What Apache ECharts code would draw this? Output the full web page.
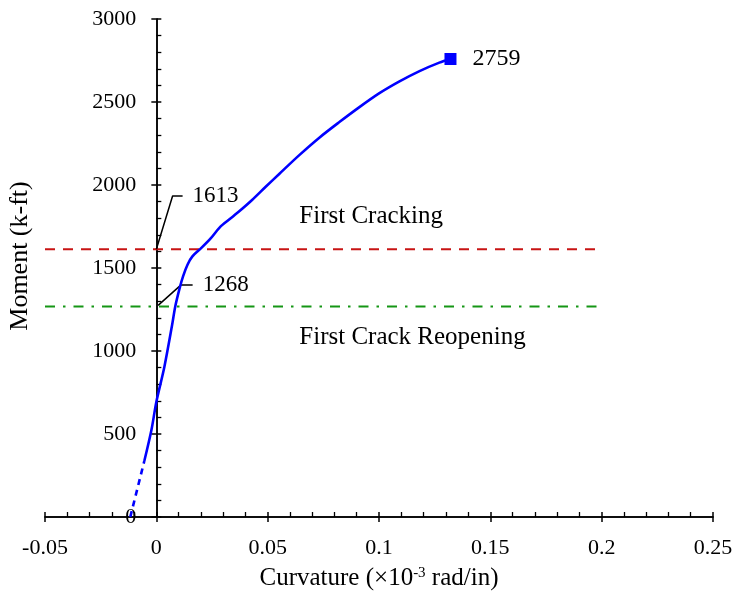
<!DOCTYPE html>
<html>
<head>
<meta charset="utf-8">
<script src="https://cdn.jsdelivr.net/npm/echarts@6.0.0/dist/echarts.min.js"></script>
<style>
  html, body { margin: 0; padding: 0; background: #fff; }
  #chart { width: 740px; height: 596px; }
</style>
</head>
<body>
<div id="chart"></div>
<script>
// ---- data ----
const xTickLabels = ['-0.05', '0', '0.05', '0.1', '0.15', '0.2', '0.25'];
const yTickLabels = ['0', '500', '1000', '1500', '2000', '2500', '3000'];
const xMin = -0.05, xMax = 0.25, xStep = 0.05;
const yMin = 0, yMax = 3000, yStep = 500;

// initial (dashed) part of the moment-curvature curve
const dashedCurvature = [-0.0117, -0.0054];
const dashedMoment = [0, 337];

// main moment-curvature curve
const curvature = [-0.0054, -0.0022, 0.0000, 0.0036, 0.0070, 0.0085, 0.0105, 0.0120, 0.0140, 0.0162,
  0.0200, 0.0245, 0.0285, 0.0330, 0.0375, 0.0430, 0.0490, 0.0553, 0.0642, 0.0732,
  0.0822, 0.0912, 0.1002, 0.1092, 0.1182, 0.1271, 0.1321];
const moment = [337, 524, 693, 904, 1150, 1268, 1380, 1450, 1520, 1570,
  1618, 1680, 1745, 1795, 1845, 1910, 1988, 2068, 2180, 2285,
  2379, 2469, 2553, 2624, 2686, 2737, 2759];

// ultimate point
const ultimateCurvature = 0.1321;
const ultimateMoment = 2759;

// reference moments
const crackingMoment = 1613;
const reopeningMoment = 1268;
const refLineCurvature = [-0.05, 0.2];

// leader lines for value call-outs
const leader1613Curvature = [0.0000, 0.0073, 0.0118];
const leader1613Moment = [1613, 1934, 1934];
const leader1268Curvature = [0.0008, 0.0111, 0.0163];
const leader1268Moment = [1275, 1398, 1398];

// text annotations
const annotationNames = ['First Cracking', 'First Crack Reopening'];
const annotationCurvature = [0.0642, 0.0642];
const annotationMoment = [1812, 1084];

// ---- chart ----
const FONT = '"Liberation Serif", "Times New Roman", serif';
const pairs = (xs, ys) => xs.map((x, i) => [x, ys[i]]);

const W = 740, H = 596;
const GRID = { left: 45, right: 27, top: 19, bottom: 79 };
const gridWidth = W - GRID.left - GRID.right;
// vertical axis drawn where curvature = 0
const yAxisOffset = -gridWidth * (0 - xMin) / (xMax - xMin);

const chart = echarts.init(document.getElementById('chart'), null, { renderer: 'canvas' });

const axisBase = (extra) => Object.assign({
  type: 'value',
  splitLine: { show: false },
  minorSplitLine: { show: false },
}, extra);

const option = {
  animation: false,
  backgroundColor: '#fff',
  grid: Object.assign({ containLabel: false, outerBoundsMode: 'none' }, GRID),
  xAxis: [
    axisBase({
      min: xMin, max: xMax, interval: xStep, position: 'bottom',
      axisLine: { show: true, onZero: false, lineStyle: { color: '#000', width: 1.5 } },
      axisTick: { show: true, inside: true, length: 5, lineStyle: { color: '#000', width: 1.5 } },
      minorTick: { show: true, splitNumber: 5, length: 5, lineStyle: { color: '#000', width: 1.3 } },
      axisLabel: {
        margin: 20, fontSize: 22, fontFamily: FONT, color: '#000',
        formatter: (v) => xTickLabels[Math.round((v - xMin) / xStep)]
      },
      name: 'Curvature (×10{sup|-3} rad/in)',
      nameLocation: 'middle',
      nameGap: 49,
      nameTextStyle: {
        fontSize: 25, fontFamily: FONT, color: '#000',
        rich: { sup: { fontSize: 15, fontFamily: FONT, color: '#000', verticalAlign: 'top', lineHeight: 14 } }
      }
    }),
    axisBase({
      min: xMin, max: xMax, interval: xStep, position: 'bottom',
      axisLine: { show: true, onZero: false, lineStyle: { color: '#000', width: 1.5 } },
      axisTick: { show: true, inside: false, length: 5, lineStyle: { color: '#000', width: 1.5 } },
      minorTick: { show: false },
      axisLabel: { show: false }
    })
  ],
  yAxis: [
    axisBase({
      min: yMin, max: yMax, interval: yStep, position: 'left', offset: yAxisOffset,
      axisLine: { show: true, onZero: false, lineStyle: { color: '#000', width: 1.5 } },
      axisTick: { show: true, inside: true, length: 5, lineStyle: { color: '#000', width: 1.5 } },
      minorTick: { show: true, splitNumber: 5, length: 5, lineStyle: { color: '#000', width: 1.3 } },
      axisLabel: {
        margin: 20, fontSize: 22, fontFamily: FONT, color: '#000',
        formatter: (v) => yTickLabels[Math.round((v - yMin) / yStep)]
      }
    }),
    axisBase({
      min: yMin, max: yMax, interval: yStep, position: 'left', offset: yAxisOffset,
      axisLine: { show: true, onZero: false, lineStyle: { color: '#000', width: 1.5 } },
      axisTick: { show: true, inside: false, length: 5, lineStyle: { color: '#000', width: 1.5 } },
      minorTick: { show: false },
      axisLabel: { show: false }
    })
  ],
  graphic: [{
    type: 'text',
    x: 20, y: 256,
    rotation: Math.PI / 2,
    style: {
      text: 'Moment (k-ft)',
      font: '26px ' + FONT,
      fill: '#000',
      align: 'center',
      verticalAlign: 'middle'
    }
  }],
  series: [
    {
      name: 'First cracking', type: 'line', xAxisIndex: 0, yAxisIndex: 0,
      data: refLineCurvature.map(x => [x, crackingMoment]),
      symbol: 'none', z: 2, silent: true,
      lineStyle: { color: '#c81414', width: 2.2, type: [10, 8] }
    },
    {
      name: 'Crack reopening', type: 'line', xAxisIndex: 0, yAxisIndex: 0,
      data: refLineCurvature.map(x => [x, reopeningMoment]),
      symbol: 'none', z: 2, silent: true,
      lineStyle: { color: '#159615', width: 2.2, type: [10, 8, 2.5, 8] }
    },
    {
      name: 'Leader 1613', type: 'line', xAxisIndex: 0, yAxisIndex: 0,
      data: pairs(leader1613Curvature, leader1613Moment),
      symbol: 'none', z: 3, silent: true,
      lineStyle: { color: '#000', width: 1.5 },
      endLabel: { show: true, formatter: String(crackingMoment), distance: 10, fontSize: 23, fontFamily: FONT, color: '#000' }
    },
    {
      name: 'Leader 1268', type: 'line', xAxisIndex: 0, yAxisIndex: 0,
      data: pairs(leader1268Curvature, leader1268Moment),
      symbol: 'none', z: 3, silent: true,
      lineStyle: { color: '#000', width: 1.5 },
      endLabel: { show: true, formatter: String(reopeningMoment), distance: 10, fontSize: 23, fontFamily: FONT, color: '#000' }
    },
    {
      name: 'Initial', type: 'line', xAxisIndex: 0, yAxisIndex: 0,
      data: pairs(dashedCurvature, dashedMoment),
      symbol: 'none', z: 4, silent: true,
      lineStyle: { color: '#0000ff', width: 2.6, type: [6, 5] }
    },
    {
      name: 'Moment-curvature', type: 'line', xAxisIndex: 0, yAxisIndex: 0,
      data: pairs(curvature, moment),
      symbol: 'none', smooth: 0.3, z: 5, silent: true,
      lineStyle: { color: '#0000ff', width: 2.6 }
    },
    {
      name: 'Ultimate', type: 'scatter', xAxisIndex: 0, yAxisIndex: 0,
      data: [[ultimateCurvature, ultimateMoment]],
      symbol: 'rect', symbolSize: 12, z: 6, silent: true,
      itemStyle: { color: '#0000ff', opacity: 1 },
      label: {
        show: true, position: 'right', distance: 16,
        formatter: (p) => String(p.value[1]),
        fontSize: 24, fontFamily: FONT, color: '#000'
      }
    },
    {
      name: 'Annotations', type: 'scatter', xAxisIndex: 0, yAxisIndex: 0,
      data: annotationNames.map((n, i) => ({ name: n, value: [annotationCurvature[i], annotationMoment[i]] })),
      symbolSize: 0, z: 6, silent: true,
      itemStyle: { opacity: 1 },
      label: {
        show: true, position: 'right', distance: 0,
        formatter: '{b}',
        fontSize: 25, fontFamily: FONT, color: '#000'
      }
    }
  ]
};

chart.setOption(option);
</script>
</body>
</html>
